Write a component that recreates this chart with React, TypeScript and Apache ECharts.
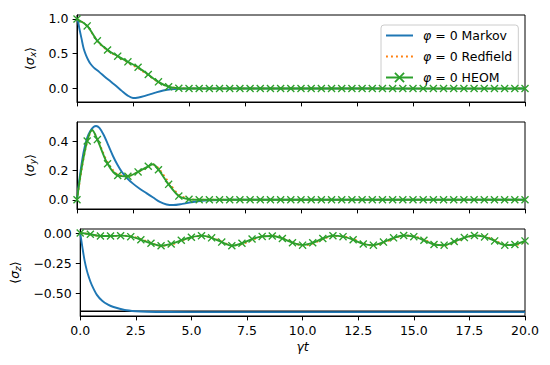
import React, { useEffect, useRef } from 'react';
import * as echarts from 'echarts';

// ---- data ----
const markT = [0, 0.455, 0.909, 1.364, 1.818, 2.273, 2.727, 3.182, 3.636, 4.091, 4.545, 5.0, 5.455, 5.909, 6.364, 6.818, 7.273, 7.727, 8.182, 8.636, 9.091, 9.545, 10.0, 10.455, 10.909, 11.364, 11.818, 12.273, 12.727, 13.182, 13.636, 14.091, 14.545, 15.0, 15.455, 15.909, 16.364, 16.818, 17.273, 17.727, 18.182, 18.636, 19.091, 19.545, 20.0];

const heomSx = [1.0, 0.9, 0.685, 0.553, 0.465, 0.383, 0.305, 0.2, 0.095, 0.025, 0.003, 0, 0, 0, 0, 0, 0, 0, 0, 0, 0, 0, 0, 0, 0, 0, 0, 0, 0, 0, 0, 0, 0, 0, 0, 0, 0, 0, 0, 0, 0, 0, 0, 0, 0];
const redfieldSx = [1.0, 0.9, 0.68, 0.548, 0.458, 0.372, 0.292, 0.19, 0.09, 0.025, 0.004, 0.001, 0, 0, 0, 0, 0, 0, 0, 0, 0, 0, 0, 0, 0, 0, 0, 0, 0, 0, 0, 0, 0, 0, 0, 0, 0, 0, 0, 0, 0, 0, 0, 0, 0];

const heomSy = [0, 0.4, 0.41, 0.245, 0.165, 0.16, 0.19, 0.228, 0.205, 0.105, 0.025, 0.003, 0, 0, 0, 0, 0, 0, 0, 0, 0, 0, 0, 0, 0, 0, 0, 0, 0, 0, 0, 0, 0, 0, 0, 0, 0, 0, 0, 0, 0, 0, 0, 0, 0];
const redfieldSy = [0, 0.395, 0.415, 0.255, 0.172, 0.163, 0.188, 0.225, 0.215, 0.12, 0.035, 0.005, 0, 0, 0, 0, 0, 0, 0, 0, 0, 0, 0, 0, 0, 0, 0, 0, 0, 0, 0, 0, 0, 0, 0, 0, 0, 0, 0, 0, 0, 0, 0, 0, 0];
const syExtraT = [0.2, 0.68, 3.4];
const heomSyExtra = [0.21, 0.475, 0.242];
const redfieldSyExtra = [0.2, 0.47, 0.24];

const heomSz = [0.0, -0.01, -0.025, -0.025, -0.022, -0.03, -0.055, -0.085, -0.105, -0.09, -0.06, -0.035, -0.022, -0.04, -0.075, -0.105, -0.085, -0.05, -0.028, -0.025, -0.045, -0.08, -0.1, -0.08, -0.045, -0.022, -0.03, -0.055, -0.09, -0.1, -0.075, -0.04, -0.02, -0.03, -0.06, -0.095, -0.1, -0.07, -0.038, -0.02, -0.032, -0.065, -0.1, -0.095, -0.065];
const redfieldSz = [0.0, -0.01, -0.026, -0.026, -0.022, -0.028, -0.05, -0.082, -0.106, -0.097, -0.066, -0.038, -0.022, -0.037, -0.07, -0.103, -0.092, -0.057, -0.03, -0.024, -0.041, -0.076, -0.102, -0.088, -0.051, -0.025, -0.028, -0.05, -0.086, -0.104, -0.083, -0.046, -0.022, -0.027, -0.055, -0.09, -0.105, -0.078, -0.043, -0.021, -0.029, -0.06, -0.097, -0.1, -0.072];

const markovSxT = [0, 0.05, 0.1, 0.2, 0.3, 0.4, 0.5, 0.6, 0.75, 1.0, 1.25, 1.5, 1.75, 2.0, 2.25, 2.5, 2.75, 3.0, 3.25, 3.5, 3.85, 4.2, 4.6, 5.0, 6.0, 20];
const markovSx = [1.0, 0.96, 0.87, 0.72, 0.57, 0.48, 0.41, 0.355, 0.3, 0.235, 0.165, 0.1, 0.035, -0.035, -0.1, -0.138, -0.13, -0.11, -0.085, -0.06, -0.03, -0.012, -0.004, 0, 0, 0];

const markovSyT = [0, 0.1, 0.2, 0.3, 0.45, 0.6, 0.75, 0.85, 1.0, 1.2, 1.4, 1.6, 1.8, 2.0, 2.25, 2.5, 2.8, 3.1, 3.4, 3.7, 4.0, 4.3, 4.7, 5.1, 5.6, 6.3, 7.0, 20];
const markovSy = [0, 0.13, 0.24, 0.33, 0.42, 0.47, 0.497, 0.503, 0.49, 0.44, 0.37, 0.3, 0.24, 0.19, 0.145, 0.11, 0.075, 0.045, 0.015, -0.015, -0.032, -0.036, -0.028, -0.017, -0.007, -0.002, 0, 0];

const markovSzT = [0, 0.1, 0.2, 0.3, 0.4, 0.5, 0.75, 1.0, 1.25, 1.5, 2.0, 2.5, 3.0, 4.0, 6.0, 20];
const markovSz = [0, -0.12, -0.23, -0.31, -0.37, -0.42, -0.51, -0.56, -0.59, -0.61, -0.635, -0.645, -0.649, -0.651, -0.652, -0.652];

const steadyT = [0, 20];
const steadySz = [-0.645, -0.645];

const yTicks1 = [0, 0.5, 1.0];
const yTicks2 = [0, 0.2, 0.4];
const yTicks3 = [-0.5, -0.25, 0];

const NAME_M = 'φ = 0 Markov';
const NAME_R = 'φ = 0 Redfield';
const NAME_H = 'φ = 0 HEOM';

// ---- styling ----
const FONT = 'DejaVu Sans';
const FS = 12.5;
const BLUE = '#1f77b4';
const ORANGE = '#ff7f0e';
const GREEN = '#2ca02c';
const LW = 1.9;
const X_PATH = 'path://M0,1.2L1.2,0L5,3.8L8.8,0L10,1.2L6.2,5L10,8.8L8.8,10L5,6.2L1.2,10L0,8.8L3.8,5Z';

const zip = (t: number[], v: number[]) => t.map((x, i) => [x, v[i]]);

function merged(t: number[], v: number[], et: number[], ev: number[], marked: boolean) {
  const pts: any[] = t.map((x, i) => ({ value: [x, v[i]] }));
  et.forEach((x, i) => pts.push({ value: [x, ev[i]], symbol: 'none' }));
  pts.sort((a, b) => a.value[0] - b.value[0]);
  if (!marked) return pts.map((p) => p.value);
  return pts;
}

function markovSeries(idx: number, data: any[]) {
  return {
    type: 'line', name: NAME_M, xAxisIndex: idx, yAxisIndex: idx, data,
    symbol: 'none', smooth: 0.3, silent: true,
    lineStyle: { color: BLUE, width: LW }, itemStyle: { color: BLUE }, z: 2,
  };
}
function redfieldSeries(idx: number, data: any[]) {
  return {
    type: 'line', name: NAME_R, xAxisIndex: idx, yAxisIndex: idx, data,
    symbol: 'none', smooth: 0.3, silent: true,
    lineStyle: { color: ORANGE, width: LW, type: [1.9, 3.1], cap: 'butt' },
    itemStyle: { color: ORANGE }, z: 3,
  };
}
function heomSeries(idx: number, data: any[]) {
  return {
    type: 'line', name: NAME_H, xAxisIndex: idx, yAxisIndex: idx, data,
    symbol: X_PATH, symbolSize: 8, showSymbol: true, showAllSymbol: true,
    smooth: 0.3, silent: true,
    lineStyle: { color: GREEN, width: LW },
    itemStyle: { color: GREEN, borderWidth: 0 }, z: 4,
  };
}

const gridTops = [15, 122, 229];
const GRID_H = 87;

function yName(sub: string) {
  return `{a|⟨}{s|σ}{b|${sub}}{a|⟩}`;
}
const yNameRich = {
  a: { fontFamily: FONT, fontSize: FS, lineHeight: 16, color: '#000' },
  s: { fontFamily: FONT, fontSize: FS, fontStyle: 'italic', lineHeight: 16, color: '#000' },
  b: { fontFamily: FONT, fontSize: 9, fontStyle: 'italic', lineHeight: 10, verticalAlign: 'bottom', color: '#000' },
};

function yAxis(idx: number, min: number, max: number, ticks: number[], digits: number, sub: string, gap: number) {
  return {
    type: 'value', gridIndex: idx, min, max,
    axisLine: { show: true, lineStyle: { color: '#000', width: 1 } },
    axisTick: { show: true, length: 4.4, customValues: ticks, lineStyle: { color: '#000', width: 1 } },
    axisLabel: {
      show: true, customValues: ticks, margin: 8.5, color: '#000', fontSize: FS, fontFamily: FONT,
      formatter: (v: number) => (v < 0 ? '−' : '') + Math.abs(v).toFixed(digits),
    },
    splitLine: { show: false },
    name: yName(sub), nameLocation: 'middle', nameRotate: 90, nameGap: gap,
    nameTextStyle: { rich: yNameRich },
  };
}

function xAxis(idx: number) {
  const last = idx === 2;
  return {
    type: 'value', gridIndex: idx, min: 0, max: 20, interval: 2.5,
    axisLine: { show: true, onZero: false, lineStyle: { color: '#000', width: 1 } },
    axisTick: { show: true, length: 4.4, lineStyle: { color: '#000', width: 1 } },
    axisLabel: {
      show: last, margin: 8, color: '#000', fontSize: FS, fontFamily: FONT,
      formatter: (v: number) => v.toFixed(1),
    },
    splitLine: { show: false },
    name: last ? 'γt' : '', nameLocation: 'middle', nameGap: 24,
    nameTextStyle: { fontFamily: FONT, fontSize: FS, fontStyle: 'italic', color: '#000' },
  };
}

export default function App() {
  const ref = useRef<HTMLDivElement>(null);
  useEffect(() => {
    if (!ref.current) return;
    const chart = echarts.init(ref.current, undefined, { renderer: 'svg' });
    const option: any = {
      animation: false,
      backgroundColor: '#fff',
      textStyle: { fontFamily: FONT },
      grid: gridTops.map((top) => ({
        left: 77, width: 448, top, height: GRID_H, show: true,
        borderColor: '#000', borderWidth: 1, backgroundColor: 'transparent',
      })),
      xAxis: [0, 1, 2].map(xAxis),
      yAxis: [
        yAxis(0, -0.195, 1.057, yTicks1, 1, 'x', 36),
        yAxis(1, -0.063, 0.53, yTicks2, 1, 'y', 36),
        yAxis(2, -0.684, 0.033, yTicks3, 2, 'z', 54),
      ],
      legend: {
        show: true, orient: 'vertical', left: 381, top: 25,
        padding: [4, 6, 4, 4], itemWidth: 27, itemHeight: 13, itemGap: 8,
        backgroundColor: 'rgba(255,255,255,0.8)', borderColor: '#cccccc', borderWidth: 1, borderRadius: 3,
        data: [
          { name: NAME_M, itemStyle: { opacity: 0 } },
          { name: NAME_R, itemStyle: { opacity: 0 } },
          { name: NAME_H },
        ],
        formatter: (name: string) => '{g| }' + name.replace('φ', '{i|φ}'),
        textStyle: {
          fontFamily: FONT, fontSize: FS, color: '#000',
          rich: {
            g: { width: 5, fontSize: FS, fontFamily: FONT },
            i: { fontStyle: 'italic', fontSize: FS, fontFamily: FONT, color: '#000' },
          },
        },
      },
      series: [
        markovSeries(0, zip(markovSxT, markovSx)),
        redfieldSeries(0, zip(markT, redfieldSx)),
        heomSeries(0, zip(markT, heomSx)),

        markovSeries(1, zip(markovSyT, markovSy)),
        redfieldSeries(1, merged(markT, redfieldSy, syExtraT, redfieldSyExtra, false)),
        heomSeries(1, merged(markT, heomSy, syExtraT, heomSyExtra, true)),

        {
          type: 'line', xAxisIndex: 2, yAxisIndex: 2, data: zip(steadyT, steadySz),
          symbol: 'none', silent: true, lineStyle: { color: '#000', width: 1.5 }, z: 1,
        },
        markovSeries(2, zip(markovSzT, markovSz)),
        redfieldSeries(2, zip(markT, redfieldSz)),
        heomSeries(2, zip(markT, heomSz)),
      ],
    };
    chart.setOption(option);
    return () => chart.dispose();
  }, []);
  return <div ref={ref} style={{ position: 'absolute', left: 0, top: 0, width: 550, height: 365 }} />;
}
